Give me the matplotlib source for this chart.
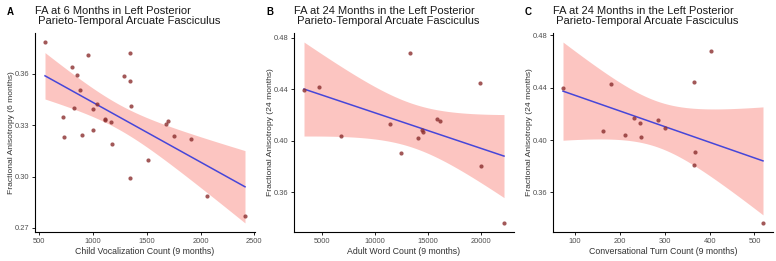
import numpy as np
import matplotlib.pyplot as plt

plt.rcParams["font.family"] = ["Liberation Sans", "DejaVu Sans"]

# -----------------------------
# Data
# -----------------------------
cv_count = [553, 953, 1343, 803, 853, 1287, 1340, 883, 1357, 820, 1003, 1036,
            720, 1113, 1113, 1167, 997, 727, 897, 1680, 1697, 1753, 1907,
            1173, 1507, 1347, 2063, 2413]
fa_6mo = [0.3786, 0.3710, 0.3724, 0.3639, 0.3596, 0.3588, 0.3559, 0.3507,
          0.3414, 0.3403, 0.3393, 0.3422, 0.3348, 0.3339, 0.3329, 0.3319,
          0.3275, 0.3234, 0.3242, 0.3306, 0.3325, 0.3238, 0.3217, 0.3190,
          0.3099, 0.2994, 0.2886, 0.2772]

awc_count = [3313, 4750, 6844, 13344, 11438, 12438, 14031, 14438, 14500,
             15906, 16125, 19969, 20063, 22188]
fa_24mo_b = [0.4397, 0.4416, 0.4036, 0.4684, 0.4129, 0.3902, 0.4023, 0.4083,
             0.4067, 0.4165, 0.4155, 0.4449, 0.3806, 0.3359]

ctc_count = [73, 180, 404, 366, 163, 232, 245, 212, 246, 285, 301, 367, 366, 519]
fa_24mo_c = [0.4400, 0.4425, 0.4683, 0.4446, 0.4073, 0.4170, 0.4127, 0.4038,
             0.4023, 0.4157, 0.4096, 0.3909, 0.3810, 0.3367]

panels = [
    ("A", "FA at 6 Months in Left Posterior\n Parieto-Temporal Arcuate Fasciculus",
     cv_count, fa_6mo, "Child Vocalization Count (9 months)",
     "Fractional Anisotropy (6 months)",
     [500, 1000, 1500, 2000, 2500], [0.27, 0.30, 0.33, 0.36]),
    ("B", "FA at 24 Months in the Left Posterior\n Parieto-Temporal Arcuate Fasciculus",
     awc_count, fa_24mo_b, "Adult Word Count (9 months)",
     "Fractional Anisotropy (24 months)",
     [5000, 10000, 15000, 20000], [0.36, 0.40, 0.44, 0.48]),
    ("C", "FA at 24 Months in the Left Posterior\n Parieto-Temporal Arcuate Fasciculus",
     ctc_count, fa_24mo_c, "Conversational Turn Count (9 months)",
     "Fractional Anisotropy (24 months)",
     [100, 200, 300, 400, 500], [0.36, 0.40, 0.44, 0.48]),
]

# t quantiles (97.5%) for df = n - 2
T_CRIT = {26: 2.056, 12: 2.179}


def lm_ci(x, y, n_grid=80):
    x = np.asarray(x, float)
    y = np.asarray(y, float)
    n = len(x)
    slope, icpt = np.polyfit(x, y, 1)
    resid = y - (icpt + slope * x)
    s = np.sqrt(np.sum(resid ** 2) / (n - 2))
    xg = np.linspace(x.min(), x.max(), n_grid)
    yg = icpt + slope * xg
    se = s * np.sqrt(1 / n + (xg - x.mean()) ** 2 / np.sum((x - x.mean()) ** 2))
    t = T_CRIT.get(n - 2, 2.0)
    return xg, yg, yg - t * se, yg + t * se


fig = plt.figure(figsize=(7.76, 2.61), dpi=100)
lefts = [35, 294, 553]
W, H = 776, 261

for (lab, title, xs, ys, xlab, ylab, xt, yt), left in zip(panels, lefts):
    ax = fig.add_axes([left / W, (H - 232) / H, 220 / W, (232 - 33) / H])
    xg, yg, lo, hi = lm_ci(xs, ys)
    ax.fill_between(xg, lo, hi, color="#F8766D", alpha=0.42, lw=0)
    ax.plot(xg, yg, color="#4646D9", lw=1.1)
    ax.scatter(xs, ys, s=9, color="#8B2E2E", alpha=0.8, lw=0, zorder=3)

    xr = max(xs) - min(xs)
    allv = list(ys) + list(lo) + list(hi)
    yr = max(allv) - min(allv)
    ax.set_xlim(min(xs) - 0.05 * xr, max(xs) + 0.05 * xr)
    ax.set_ylim(min(allv) - 0.05 * yr, max(allv) + 0.05 * yr)
    ax.set_xticks(xt)
    ax.set_yticks(yt)
    ax.set_yticklabels([f"{v:.2f}" for v in yt])

    for sp in ["top", "right"]:
        ax.spines[sp].set_visible(False)
    for sp in ["left", "bottom"]:
        ax.spines[sp].set_linewidth(0.8)
    ax.tick_params(labelsize=5.4, length=2.5, width=0.6, pad=1.5,
                   colors="black", labelcolor="#4d4d4d")

    ax.set_xlabel(xlab, fontsize=6.3, color="#333333", labelpad=1.5)
    ax.set_ylabel(ylab, fontsize=6.1, color="#333333")
    ax.yaxis.set_label_coords(-0.092, 0.5)

    fig.text(left / W, 1 - 6 / H, title, fontsize=8.0, ha="left", va="top",
             color="#1a1a1a", linespacing=1.0)
    fig.text((left - 28) / W, 1 - 7 / H, lab, fontsize=7.0, fontweight="bold",
             ha="left", va="top")

fig.savefig("out.png", dpi=100)
